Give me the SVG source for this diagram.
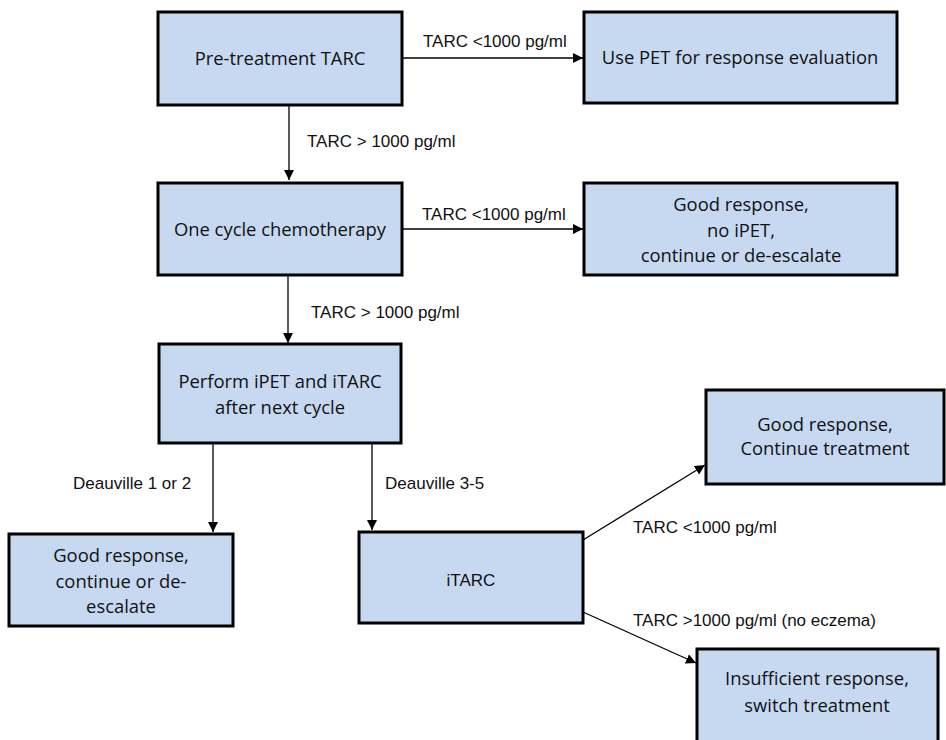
<svg xmlns="http://www.w3.org/2000/svg" width="946" height="740" viewBox="0 0 946 740">
<style>
.box{fill:#c6d9f1;stroke:#000;stroke-width:3}
.bt{font-family:"Open Sans","Noto Sans",sans-serif;font-size:18.4px;fill:#111;text-anchor:middle}
.lt{font-family:"Liberation Sans",Arial,sans-serif;font-size:17px;fill:#111}
.c{stroke:#000;stroke-width:1.3;fill:none;marker-end:url(#ah)}
</style>
<defs>
<marker id="ah" viewBox="0 0 10 10" refX="10" refY="5" markerWidth="10" markerHeight="10" markerUnits="userSpaceOnUse" orient="auto">
<path d="M0,0 L10,5 L0,10 Z" fill="#000"/>
</marker>
</defs>
<rect width="946" height="740" fill="#fff"/>
<g id="connectors">
<line class="c" x1="402" y1="58" x2="583" y2="58"/>
<line class="c" x1="289" y1="105" x2="289" y2="180"/>
<line class="c" x1="402" y1="229" x2="583" y2="229"/>
<line class="c" x1="288" y1="275" x2="288" y2="343"/>
<line class="c" x1="213" y1="443" x2="213" y2="532"/>
<line class="c" x1="372" y1="443" x2="372" y2="530"/>
<line class="c" x1="583" y1="540" x2="705" y2="465"/>
<line class="c" x1="583" y1="612" x2="696" y2="663"/>
<text class="lt" x="423" y="47">TARC &lt;1000 pg/ml</text>
<text class="lt" x="307" y="147">TARC &gt; 1000 pg/ml</text>
<text class="lt" x="422" y="220">TARC &lt;1000 pg/ml</text>
<text class="lt" x="311" y="318">TARC &gt; 1000 pg/ml</text>
<text class="lt" x="73" y="489">Deauville 1 or 2</text>
<text class="lt" x="385" y="489">Deauville 3-5</text>
<text class="lt" x="633" y="533">TARC &lt;1000 pg/ml</text>
<text class="lt" x="633" y="626">TARC &gt;1000 pg/ml (no eczema)</text>
</g>
<g id="pretreatment">
<rect class="box" x="158" y="12" width="244" height="93"/>
<text class="bt" x="280" y="65">Pre-treatment TARC</text>
</g>
<g id="usepet">
<rect class="box" x="584" y="12" width="313" height="91"/>
<text class="bt" x="740" y="64">Use PET for response evaluation</text>
</g>
<g id="onecycle">
<rect class="box" x="158" y="183" width="244" height="92"/>
<text class="bt" x="280" y="236">One cycle chemotherapy</text>
</g>
<g id="goodnoipet">
<rect class="box" x="584" y="183" width="313" height="92"/>
<text class="bt" x="741" y="211">Good response,</text>
<text class="bt" x="741" y="237">no iPET,</text>
<text class="bt" x="741" y="262">continue or de-escalate</text>
</g>
<g id="performipet">
<rect class="box" x="159" y="344" width="242" height="99"/>
<text class="bt" x="280" y="388">Perform iPET and iTARC</text>
<text class="bt" x="280" y="414">after next cycle</text>
</g>
<g id="goodleft">
<rect class="box" x="9" y="534" width="224" height="92"/>
<text class="bt" x="121" y="562">Good response,</text>
<text class="bt" x="121" y="588">continue or de-</text>
<text class="bt" x="121" y="613">escalate</text>
</g>
<g id="itarc">
<rect class="box" x="359" y="532" width="224" height="91"/>
<text class="lt" x="471" y="586" text-anchor="middle">iTARC</text>
</g>
<g id="goodcontinue">
<rect class="box" x="706" y="390" width="238" height="94"/>
<text class="bt" x="825" y="431">Good response,</text>
<text class="bt" x="825" y="455">Continue treatment</text>
</g>
<g id="insufficient">
<rect class="box" x="697" y="649" width="241" height="100"/>
<text class="bt" x="817" y="685">Insufficient response,</text>
<text class="bt" x="817" y="712">switch treatment</text>
</g>
</svg>
